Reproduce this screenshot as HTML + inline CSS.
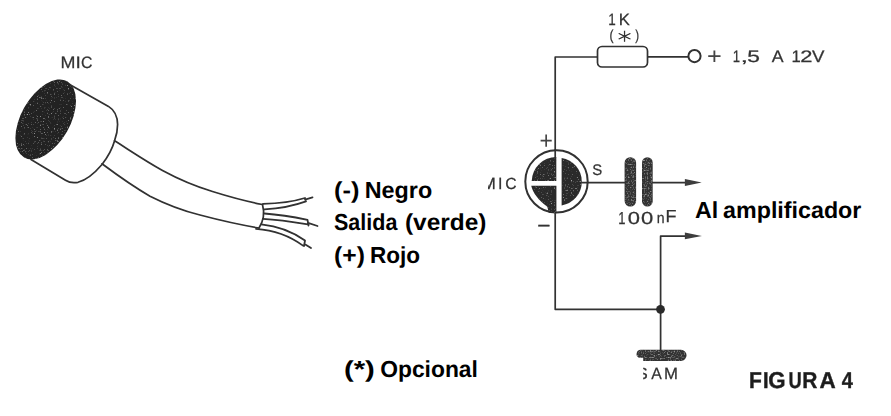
<!DOCTYPE html>
<html lang="es">
<head>
<meta charset="utf-8">
<title>Figura 4 - Microfono de electreto</title>
<style>
html,body{margin:0;padding:0;background:#fff;}
body{width:891px;height:416px;overflow:hidden;position:relative;}
svg{display:block;position:absolute;left:0;top:0;text-rendering:geometricPrecision;}
.ln{fill:none;stroke:#303030;stroke-width:1.7;stroke-linecap:round;stroke-linejoin:round;}
.thin{fill:none;stroke:#303030;stroke-width:1.8;stroke-linecap:round;stroke-linejoin:round;}
.dk{fill:#202020;stroke:none;}
.md{fill:#2a2a2a;stroke:none;}
.gr{fill:#333;stroke:none;}
.ar{fill:#3c3c3c;stroke:none;}
.lbl{font-family:"Liberation Sans",sans-serif;font-size:16.5px;fill:#333;stroke:#333;stroke-width:0.25px;}
.cal{font-family:"Liberation Sans",sans-serif;font-weight:bold;font-size:23.5px;fill:#000;}
.fig{font-family:"Liberation Sans",sans-serif;font-weight:bold;font-size:23.5px;fill:#1e1e1e;stroke:#1e1e1e;stroke-width:0.4px;stroke-linejoin:round;}
</style>
</head>
<body>
<svg width="891" height="416" viewBox="0 0 891 416">
<defs>
  <filter id="soft" x="0" y="0" width="891" height="416" filterUnits="userSpaceOnUse"><feGaussianBlur stdDeviation="0.45"/></filter>
  <filter id="speck" x="0" y="0" width="891" height="416" filterUnits="userSpaceOnUse" color-interpolation-filters="sRGB">
    <feTurbulence type="fractalNoise" baseFrequency="0.7" numOctaves="2" seed="7" result="n"/>
    <feColorMatrix in="n" type="matrix" values="0 0 0 0 0.62  0 0 0 0 0.62  0 0 0 0 0.62  4 0 0 0 -2.4" result="sp"/>
    <feComposite in="sp" in2="SourceGraphic" operator="in" result="spc"/>
    <feMerge><feMergeNode in="SourceGraphic"/><feMergeNode in="spc"/></feMerge>
  </filter>
  <filter id="speck2" x="0" y="0" width="891" height="416" filterUnits="userSpaceOnUse" color-interpolation-filters="sRGB">
    <feTurbulence type="fractalNoise" baseFrequency="0.7" numOctaves="2" seed="11" result="n"/>
    <feColorMatrix in="n" type="matrix" values="0 0 0 0 0.6  0 0 0 0 0.6  0 0 0 0 0.6  3 0 0 0 -1.5" result="sp"/>
    <feComposite in="sp" in2="SourceGraphic" operator="in" result="spc"/>
    <feMerge><feMergeNode in="SourceGraphic"/><feMergeNode in="spc"/></feMerge>
  </filter>
  <clipPath id="clipMic"><rect x="488" y="170" width="40" height="30"/></clipPath>
  <clipPath id="clipSam"><rect x="643.2" y="360" width="50" height="30"/></clipPath>
</defs>
<rect width="891" height="416" fill="#fff"/>

<!-- ===== microphone drawing ===== -->
<g id="mic-drawing" filter="url(#soft)">
  <text class="lbl" style="font-size:16.6px"><tspan x="60.43" y="68" textLength="14.94" lengthAdjust="spacingAndGlyphs">M</tspan><tspan x="75.62" y="68" textLength="5.36" lengthAdjust="spacingAndGlyphs">I</tspan><tspan x="81" y="68" textLength="11.4" lengthAdjust="spacingAndGlyphs">C</tspan></text>
  <g filter="url(#speck)"><ellipse class="dk" cx="45.7" cy="119.4" rx="24.5" ry="43.8" transform="rotate(29.4 45.7 119.4)"/></g>
  <path class="ln" d="M70.5 85 L108.5 106.4 C113.5 109.5 117.5 116 117.6 124.5 C117.6 130 116.5 135.5 114.5 141 C112 150 107 158 102 164.5 C93 175 85 180.5 78 182.3 C73 183.3 69 182.5 65.5 180.3 L31 159.5"/>
  <path class="ln" d="M114.5 140.8 C130 150.5 145 160.8 162.5 170.5 C180 180 196 186.5 212.5 191.5 C230 197 247 201.5 262.5 204.5"/>
  <path class="ln" d="M102 163.8 C117 175 133 186.5 150 196.2 C167 204.8 184 211 200 215 C220 220.3 240 224.8 259 228"/>
  <path class="ln" d="M262.5 204.5 C264.5 212 263.5 221 259 228"/>
  <!-- wires -->
  <path class="thin" d="M263 203.8 C278 203.5 292 202 305 198 M264.4 209.4 C279 208.5 293 206 306 201.3 M305 199.6 L312.5 197.3"/>
  <path class="thin" d="M264.4 213.5 C279 214.5 294 217 307.5 219.8 L308.5 225.5 M263 218.8 C278 219.5 294 222 308 224.4 M308 222.8 L317.5 226"/>
  <path class="thin" d="M261.3 224.4 C277 226 293 232 305 240.6 L304 246 M256 228.8 C273 230 290 236 303 245.6 M304.5 244 L311 248"/>
</g>

<!-- ===== wire labels ===== -->
<g id="wire-labels">
  <text class="cal" y="198" style="font-size:23.2px"><tspan x="334.03" textLength="25.44" lengthAdjust="spacingAndGlyphs">(-)</tspan> <tspan x="364.74" textLength="67.47" lengthAdjust="spacingAndGlyphs">Negro</tspan></text>
  <text class="cal" y="230.3" style="font-size:23.2px"><tspan x="333.98" textLength="63.38" lengthAdjust="spacingAndGlyphs">Salida</tspan> <tspan x="404.98" textLength="81.54" lengthAdjust="spacingAndGlyphs">(verde)</tspan></text>
  <text class="cal" y="262.8" style="font-size:23.2px"><tspan x="334.07" textLength="30.86" lengthAdjust="spacingAndGlyphs">(+)</tspan> <tspan x="369.89" textLength="50.09" lengthAdjust="spacingAndGlyphs">Rojo</tspan></text>
  <text class="cal" y="377" style="font-size:23.2px"><tspan x="343.94" textLength="30.92" lengthAdjust="spacingAndGlyphs">(*)</tspan> <tspan x="380.16" textLength="97.75" lengthAdjust="spacingAndGlyphs">Opcional</tspan></text>
  <text class="cal" y="218" style="font-size:23.2px"><tspan x="695.02" textLength="23.22" lengthAdjust="spacingAndGlyphs">Al</tspan> <tspan x="723.12" textLength="138.23" lengthAdjust="spacingAndGlyphs">amplificador</tspan></text>
</g>

<!-- ===== circuit ===== -->
<g id="circuit" filter="url(#soft)">
  <!-- wires -->
  <path class="ln" d="M555.2 150 L555.2 57 L597 57"/>
  <rect class="ln" x="597.5" y="46.5" width="50" height="20.5" rx="4.5" ry="4.5"/>
  <path class="ln" d="M648 56.8 L688 56.8"/>
  <circle class="ln" cx="694.5" cy="56.1" r="6.1" style="stroke-width:2"/>
  <path class="ln" d="M555.2 213 L555.2 309.3 L660.5 309.3"/>
  <path class="ln" d="M660.6 351 L660.6 236.2 L686 236.2"/>
  <path class="ar" d="M684.9 232.5 L701.8 236 L684.9 239.3 Z"/>
  <circle class="md" cx="660.5" cy="309.3" r="4.4"/>
  <path class="ln" d="M582 182.6 L625 182.6 M652 182.6 L686 182.6"/>
  <path class="ar" d="M684.9 179.1 L701.7 182.6 L684.9 186 Z"/>
  <circle class="ln" cx="556.5" cy="181.4" r="31.2" style="stroke-width:2"/>
  <g filter="url(#speck2)">
  <!-- capacitor -->
  <rect class="gr" x="624.6" y="157.2" width="11.5" height="49.4" rx="5.6" ry="5.6"/>
  <rect class="gr" x="642" y="157.2" width="10.7" height="49.4" rx="5.3" ry="5.3"/>
  <!-- ground bar -->
  <path class="gr" d="M641 349.8 L681 349.8 A5.5 5.5 0 0 1 681 360.9 L643.2 360.9 L643.2 357.8 L639 357.8 A4.2 4.2 0 0 1 641 349.8 Z"/>
  </g>
  <g filter="url(#speck)">
  <!-- mic symbol -->
  <path class="md" d="M556.3 157 L556.3 180.9 L531.7 180.9 A24.8 24.8 0 0 1 556.3 157 Z"/>
  <path class="md" d="M531.2 185.8 C533 193 538.5 200.5 547.3 206.8 L548.8 212.8 L556.4 213.2 L556.4 185.8 Z"/>
  <path class="md" d="M561.6 158 A24 24 0 0 1 561.6 205.4 Z"/>
  </g>
  <path class="ln" d="M555.2 150 L555.2 158"/>
  <!-- labels -->
  <text class="lbl" style="font-size:16.5px"><tspan x="608.18" y="25.4" textLength="7.48" lengthAdjust="spacingAndGlyphs">1</tspan><tspan x="618.73" y="25.4" textLength="11.16" lengthAdjust="spacingAndGlyphs">K</tspan></text>
  <text class="lbl" style="font-size:14.5px"><tspan x="609.55" y="40.2" textLength="4.02" lengthAdjust="spacingAndGlyphs">(</tspan><tspan x="617.8" y="48.03" textLength="13.67" lengthAdjust="spacingAndGlyphs" style="font-size:22.8px;font-family:&quot;DejaVu Sans Light&quot;,&quot;Liberation Sans&quot;,sans-serif;stroke:#333;stroke-width:0.5px">*</tspan><tspan x="635.13" y="40.2" textLength="3.89" lengthAdjust="spacingAndGlyphs">)</tspan></text>
  <text class="lbl" style="font-size:16.6px"><tspan x="706.96" y="64" textLength="14.78" lengthAdjust="spacingAndGlyphs" style="font-size:23.5px;stroke:none;fill:#444">+</tspan> <tspan x="732.79" y="62" textLength="7.35" lengthAdjust="spacingAndGlyphs">1</tspan><tspan x="739.87" y="62" textLength="9.06" lengthAdjust="spacingAndGlyphs" style="stroke:none">,</tspan><tspan x="747.19" y="62" textLength="12.67" lengthAdjust="spacingAndGlyphs">5</tspan> <tspan x="771.77" y="62" textLength="10.86" lengthAdjust="spacingAndGlyphs">A</tspan> <tspan x="791.43" y="62" textLength="9.29" lengthAdjust="spacingAndGlyphs">1</tspan><tspan x="800.2" y="62" textLength="12.21" lengthAdjust="spacingAndGlyphs">2</tspan><tspan x="811.92" y="62" textLength="12.46" lengthAdjust="spacingAndGlyphs">V</tspan></text>
  <text class="lbl" style="font-size:25px"><tspan x="539.58" y="149" textLength="13.34" lengthAdjust="spacingAndGlyphs" style="stroke:none;fill:#444">+</tspan></text>
  <text class="lbl" style="font-size:15.3px"><tspan x="592.22" y="175" textLength="9.96" lengthAdjust="spacingAndGlyphs">S</tspan></text>
  <text class="lbl" style="font-size:16.2px" clip-path="url(#clipMic)"><tspan x="481.81" y="189" textLength="14.07" lengthAdjust="spacingAndGlyphs">M</tspan><tspan x="498.02" y="189" textLength="4.47" lengthAdjust="spacingAndGlyphs">I</tspan><tspan x="505.2" y="189" textLength="11.4" lengthAdjust="spacingAndGlyphs">C</tspan></text>
  <text class="lbl" style="font-size:20px"><tspan x="536.43" y="230.51" textLength="14.73" lengthAdjust="spacingAndGlyphs">-</tspan></text>
  <text class="lbl" style="font-size:17.4px"><tspan x="618.31" y="223.6" textLength="7.22" lengthAdjust="spacingAndGlyphs">1</tspan><tspan x="627.74" y="223.6" textLength="12.22" lengthAdjust="spacingAndGlyphs">0</tspan><tspan x="641.04" y="223.6" textLength="12.22" lengthAdjust="spacingAndGlyphs">0</tspan><tspan x="656.76" y="223.4" textLength="7.86" lengthAdjust="spacingAndGlyphs" style="font-size:15.2px">n</tspan><tspan x="665.52" y="222.4" textLength="11" lengthAdjust="spacingAndGlyphs">F</tspan></text>
  <text class="lbl" style="font-size:16.3px" clip-path="url(#clipSam)"><tspan x="636.53" y="379.4" textLength="11.24" lengthAdjust="spacingAndGlyphs">S</tspan><tspan x="651.17" y="379.4" textLength="10.56" lengthAdjust="spacingAndGlyphs">A</tspan><tspan x="664.03" y="379.4" textLength="13.95" lengthAdjust="spacingAndGlyphs">M</tspan></text>
  <text class="fig" style="font-size:23px"><tspan x="748.99" y="387.7" textLength="12.88" lengthAdjust="spacingAndGlyphs">F</tspan><tspan x="763.05" y="387.7" textLength="5.59" lengthAdjust="spacingAndGlyphs">I</tspan><tspan x="768.29" y="387.7" textLength="17.29" lengthAdjust="spacingAndGlyphs">G</tspan><tspan x="788.5" y="387.7" textLength="13.22" lengthAdjust="spacingAndGlyphs">U</tspan><tspan x="802.3" y="387.7" textLength="15.13" lengthAdjust="spacingAndGlyphs">R</tspan><tspan x="819.47" y="387.7" textLength="15.39" lengthAdjust="spacingAndGlyphs">A</tspan> <tspan x="841.7" y="387.7" textLength="11.11" lengthAdjust="spacingAndGlyphs">4</tspan></text>
</g>
</svg>
</body>
</html>
